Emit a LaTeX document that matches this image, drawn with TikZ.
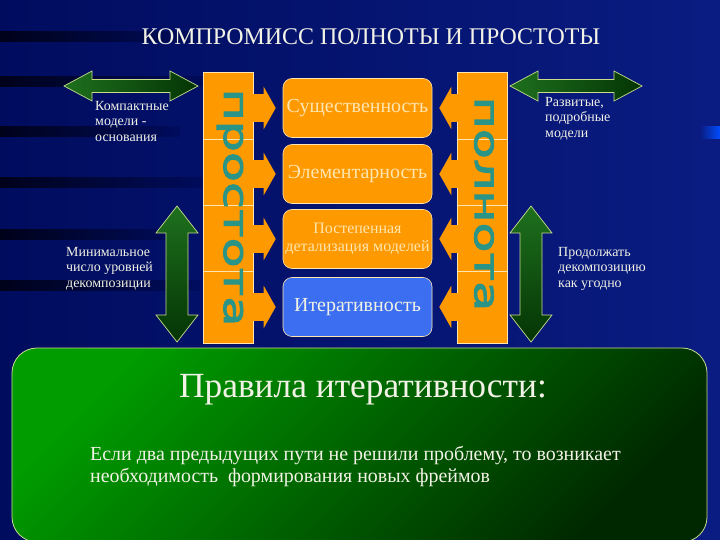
\documentclass[tikz,border=0pt]{standalone}
\usepackage{fontspec}
\setmainfont{Liberation Serif}
\newfontfamily\barfont[FakeStretch=1.45, FakeBold=3]{DejaVu Sans}
\usetikzlibrary{arrows.meta}

\definecolor{navybg}{HTML}{000C5E}
\definecolor{navyright}{HTML}{0A1C82}
\definecolor{streak}{HTML}{00021A}
\definecolor{barorange}{HTML}{FF9900}
\definecolor{edgecream}{HTML}{FFE6B0}
\definecolor{teallet}{HTML}{2A9486}
\definecolor{iterblue}{HTML}{3B6EF0}
\definecolor{ruleedge}{HTML}{C8DC8C}
\definecolor{rulehi}{HTML}{009C00}
\definecolor{rulelo}{HTML}{002800}
\definecolor{arrowhi}{HTML}{1E701E}
\definecolor{arrowlo}{HTML}{043404}
\definecolor{labelwhite}{HTML}{F2F2E6}

\tikzset{
  feature/.style={draw=edgecream, line width=0.6bp, fill=barorange, rounded corners=9bp,
    minimum width=149bp, minimum height=59bp, text=edgecream, align=center, inner sep=1bp,
    font=\fontsize{20}{22}\selectfont},
  bar/.style={draw=edgecream, line width=0.6bp, fill=barorange, minimum width=50bp, minimum height=271bp},
  bartext/.style={rotate=-90, text=teallet, inner sep=0pt, font=\barfont\fontsize{34}{36}\selectfont},
  pushin/.style={draw=barorange, line width=28bp, -{Triangle[length=12bp, width=42bp]}},
  twin/.style={draw=ruleedge, line width=0.7bp, line join=miter},
  sidelabel/.style={anchor=north west, align=left, text=labelwhite, inner sep=0pt,
    font=\fontsize{14}{15.5}\selectfont},
}

\begin{document}
\begin{tikzpicture}[x=1bp, y=-1bp]
    \useasboundingbox (0,0) rectangle (720,540);
    % background with dark streaks
    \shade[left color=navybg, right color=navyright] (0,0) rectangle (720,540);
    \foreach \y/\w in {37/200, 82/220, 132/180, 183/210, 235/190, 285/200}
        \shade[left color=streak, right color=navybg] (0,\y-5) rectangle (\w,\y+5);
    \shade[left color=navyright, right color=blue!70!cyan] (700,127) rectangle (720,139);

    \node[text=labelwhite, font=\fontsize{24}{27}\selectfont] (title) at (371,37) {КОМПРОМИСС ПОЛНОТЫ И ПРОСТОТЫ};

    % the two bars
    \node[bar] (simplebar) at (228,207.5) {};
    \node[bar] (fullbar) at (482.5,207.5) {};
    \foreach \y in {139,205,271} {
        \draw[edgecream, line width=0.5bp] (simplebar.west |- 0,\y) -- (simplebar.east |- 0,\y);
        \draw[edgecream, line width=0.5bp] (fullbar.west |- 0,\y) -- (fullbar.east |- 0,\y);
    }
    \node[bartext] (simple) at (230,207.5) {простота};
    \node[bartext] (full) at (484,204) {полнота};

    % the four properties
    \node[feature] (essence) at (357.5,108) {Существенность};
    \node[feature] (element) at (357.5,174) {Элементарность};
    \node[feature, font=\fontsize{16}{18}\selectfont] (stepwise) at (357.5,239) {Постепенная\\детализация моделей};
    \node[feature, fill=iterblue, text=labelwhite] (iterate) at (357.5,307) {Итеративность};

    \foreach \n in {essence, element, stepwise, iterate} {
        \draw[pushin] ([xshift=-1bp]simplebar.east |- \n.west) -- ([xshift=-7bp]\n.west);
        \draw[pushin] ([xshift=1bp]fullbar.west |- \n.east) -- ([xshift=7bp]\n.east);
    }

    % green double arrows
    \foreach \xa/\xb in {64/198, 510/642}
        \draw[twin, left color=arrowhi, right color=arrowlo]
            (\xa,86) -- (\xa+28,71) -- (\xa+28,79.5) -- (\xb-28,79.5) -- (\xb-28,71) -- (\xb,86)
            -- (\xb-28,101) -- (\xb-28,92.5) -- (\xa+28,92.5) -- (\xa+28,101) -- cycle;
    \foreach \xc in {177, 531}
        \draw[twin, top color=arrowhi, bottom color=arrowlo]
            (\xc,206) -- (\xc+21,233) -- (\xc+11,233) -- (\xc+11,315) -- (\xc+21,315) -- (\xc,342)
            -- (\xc-21,315) -- (\xc-11,315) -- (\xc-11,233) -- (\xc-21,233) -- cycle;

    \node[sidelabel] (compact) at (95,101) {Компактные\\модели -\\основания};
    \node[sidelabel] (detailed) at (545,97) {Развитые,\\подробные\\модели};
    \node[sidelabel] (minimal) at (66,247) {Минимальное\\число уровней\\декомпозиции};
    \node[sidelabel] (anyhow) at (558,247) {Продолжать\\декомпозицию\\как угодно};

    % rules of iteration
    \node[draw=ruleedge, line width=0.8bp, rounded corners=25bp, top color=rulehi, bottom color=rulelo,
        shading angle=45, minimum width=695bp, minimum height=194bp] (rules) at (359.5,445) {};
    \node[text=labelwhite, font=\fontsize{35.5}{40}\selectfont] (rulehead) at (363,390) {Правила итеративности:};
    \node[anchor=north west, align=left, inner sep=0pt, text=labelwhite, font=\fontsize{20}{22}\selectfont]
        (rulebody) at (90,446) {Если два предыдущих пути не решили проблему, то возникает\\необходимость\ \ формирования новых фреймов};
\end{tikzpicture}
\end{document}
